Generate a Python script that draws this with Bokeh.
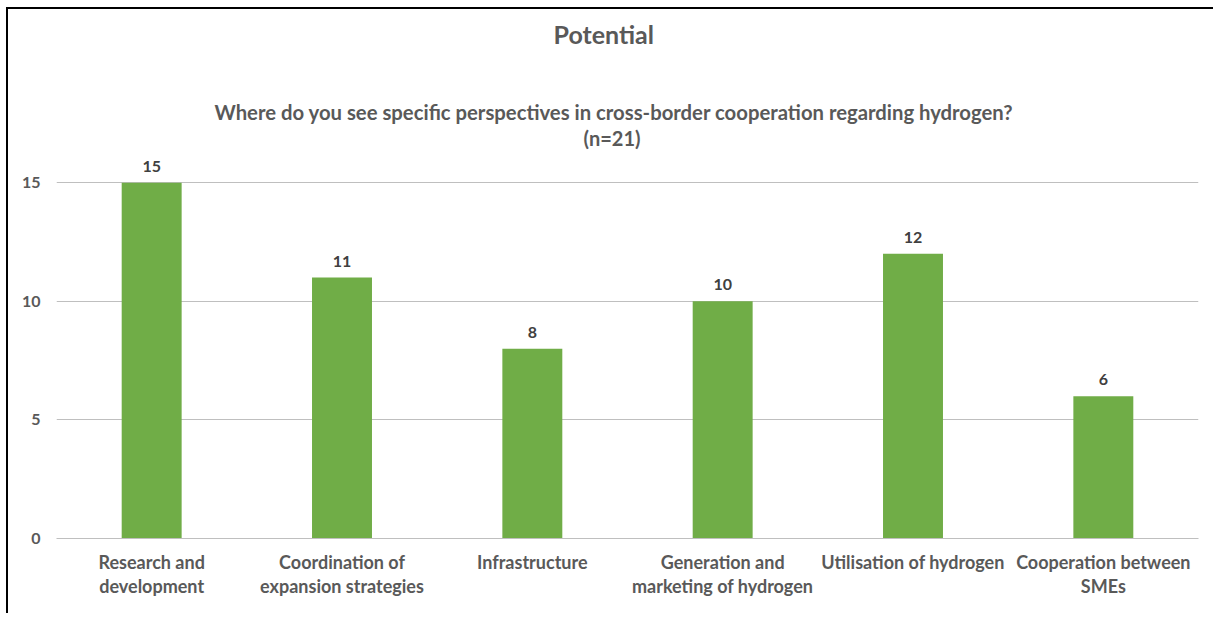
from bokeh.plotting import figure
from bokeh.models import ColumnDataSource, FixedTicker, Title, LabelSet, Range1d
from bokeh.core.properties import value
from bokeh.embed import file_html
from bokeh.resources import INLINE

categories = ["Research and\ndevelopment", "Coordination of\nexpansion strategies", "Infrastructure",
              "Generation and\nmarketing of hydrogen", "Utilisation of hydrogen", "Cooperation between\nSMEs"]
counts = [15, 11, 8, 10, 12, 6]
y_ticks = [0, 5, 10, 15]
title_main = "Potential"
title_question = "Where do you see specific perspectives in cross-border cooperation regarding hydrogen?"
title_n = "(n=21)"

FONT = "Lato"
TXT = "#595959"

src = ColumnDataSource(dict(cat=categories, val=counts, lab=[str(v) for v in counts]))

p = figure(x_range=categories, y_range=Range1d(0, 16.4), width=1207, height=606,
           output_backend="svg", toolbar_location=None,
           min_border_left=48, min_border_right=17, min_border_bottom=77, min_border_top=0)
p.styles = {"margin-left": "6px", "margin-top": "7px",
            "border-top": "2px solid #000", "border-left": "2px solid #000"}

p.vbar(x="cat", top="val", width=0.315, source=src, fill_color="#70AD47", line_color=None)
p.add_layout(LabelSet(x="cat", y="val", text="lab", source=src, y_offset=11, text_align="center",
                      text_baseline="bottom", text_font=value(FONT), text_font_style="bold",
                      text_font_size="16px", text_color="#404040"))

# titles stacked outward from the frame: (text, size, standoff, left offset from frame)
title_specs = [(title_n, "20px", 0, 527), (title_question, "20.3px", 0, 158),
               (" ", "10px", 28, 0), (title_main, "25px", 14, 497)]
for txt, size, standoff, off in title_specs:
    p.add_layout(Title(text=txt, align="left", offset=off, text_font=FONT, text_font_style="bold",
                       text_font_size=size, text_color=TXT, standoff=standoff), "above")
p.title.visible = False

p.yaxis.ticker = FixedTicker(ticks=y_ticks)
p.yaxis.axis_line_color = None
p.yaxis.major_tick_line_color = None
p.yaxis.minor_tick_line_color = None
p.yaxis.major_label_standoff = 10
p.yaxis.major_label_text_font = FONT
p.yaxis.major_label_text_font_style = "bold"
p.yaxis.major_label_text_font_size = "16px"
p.yaxis.major_label_text_color = TXT

p.xaxis.axis_line_color = "#BFBFBF"
p.xaxis.major_tick_line_color = None
p.xaxis.minor_tick_line_color = None
p.xaxis.major_label_standoff = 6
p.xaxis.major_label_text_font = FONT
p.xaxis.major_label_text_font_style = "bold"
p.xaxis.major_label_text_font_size = "18px"
p.xaxis.major_label_text_color = TXT
p.xaxis.major_label_text_line_height = 1.1

p.xgrid.grid_line_color = None
p.ygrid.grid_line_color = "#BFBFBF"
p.outline_line_color = None

open("out.html", "w").write(file_html(p, INLINE))
